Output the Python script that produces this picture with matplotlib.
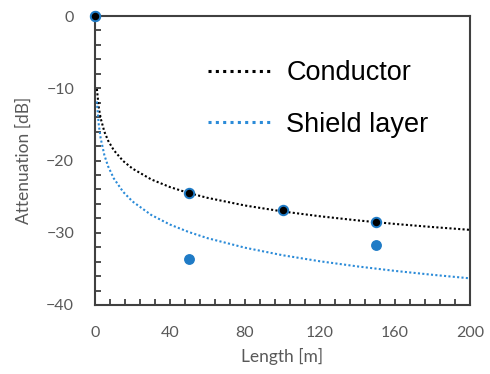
import matplotlib
matplotlib.use("Agg")
import matplotlib.pyplot as plt
from matplotlib.lines import Line2D
from matplotlib.ticker import MultipleLocator

# Measured attenuation
length_meas = [0, 50, 100, 150]
conductor_meas = [0, -24.5, -26.8, -28.5]
shield_len = [0, 50, 150]
shield_meas = [0, -33.6, -31.7]

# Logarithmic trend lines (points along each curve)
trend_x = [1, 2, 3, 5, 7, 10, 15, 20, 30, 40, 50, 60, 80, 100, 120, 140, 160, 180, 200]
conductor_trend = [-10.1, -12.65, -14.14, -16.02, -17.26, -18.57, -20.07, -21.12,
                   -22.62, -23.68, -24.5, -25.17, -26.23, -27.05, -27.72, -28.29,
                   -28.78, -29.21, -29.6]
shield_trend = [-11.83, -15.03, -16.91, -19.27, -20.82, -22.47, -24.34, -25.67,
                -27.54, -28.87, -29.9, -30.75, -32.07, -33.11, -33.95, -34.66,
                -35.28, -35.82, -36.31]

labels = ["Conductor", "Shield layer"]

BLUE = "#1f7bc6"
BLUE_LINE = "#2b8bd8"
GRAY = "#595959"
SPINE = "#404040"

fig = plt.figure(figsize=(4.9, 3.74), dpi=100)
ax = fig.add_axes([0.1939, 0.1845, 0.7653, 0.7727])

ax.plot(trend_x, conductor_trend, color="black", lw=1.5, dashes=(1, 1.1), zorder=2)
ax.plot(trend_x, shield_trend, color=BLUE_LINE, lw=1.5, dashes=(1, 1.1), zorder=2)

ax.plot(shield_len, shield_meas, ls="none", marker="o", ms=6.8,
        mfc=BLUE, mec=BLUE, zorder=3, clip_on=False)
ax.plot(length_meas, conductor_meas, ls="none", marker="o", ms=6.8,
        mfc="black", mec=BLUE, mew=1.4, zorder=4, clip_on=False)

ax.set_xlim(0, 200)
ax.set_ylim(-40, 0)
ax.xaxis.set_major_locator(MultipleLocator(40))
ax.xaxis.set_minor_locator(MultipleLocator(8))
ax.yaxis.set_major_locator(MultipleLocator(10))
ax.yaxis.set_minor_locator(MultipleLocator(2))

for s in ax.spines.values():
    s.set_color(SPINE)
    s.set_linewidth(1.5)

ax.tick_params(which="both", direction="in", length=4, width=1.3, color=SPINE,
               top=False, right=False)
ax.tick_params(axis="x", which="major", labelsize=11.5, labelcolor=GRAY, pad=15)
ax.tick_params(axis="y", which="major", labelsize=11.5, labelcolor=GRAY, pad=15)

font = "Lato"
for lab in ax.get_xticklabels() + ax.get_yticklabels():
    lab.set_fontfamily(font)

ax.set_xlabel("Length [m]", fontsize=12.5, color=GRAY, family=font, labelpad=6)
ax.set_ylabel("Attenuation [dB]", fontsize=12.5, color=GRAY, family=font, labelpad=10)

handles = [Line2D([], [], color="black", lw=2.2, dashes=(1, 1.4)),
           Line2D([], [], color=BLUE_LINE, lw=2.2, dashes=(1, 1.4))]
ax.legend(handles, labels, loc="upper left", bbox_to_anchor=(0.272, 0.885),
          frameon=False, handlelength=2.3, handletextpad=0.6, labelspacing=0.95,
          prop={"family": "Liberation Sans", "size": 19.5}, borderaxespad=0)

fig.savefig("out.png", dpi=100)
